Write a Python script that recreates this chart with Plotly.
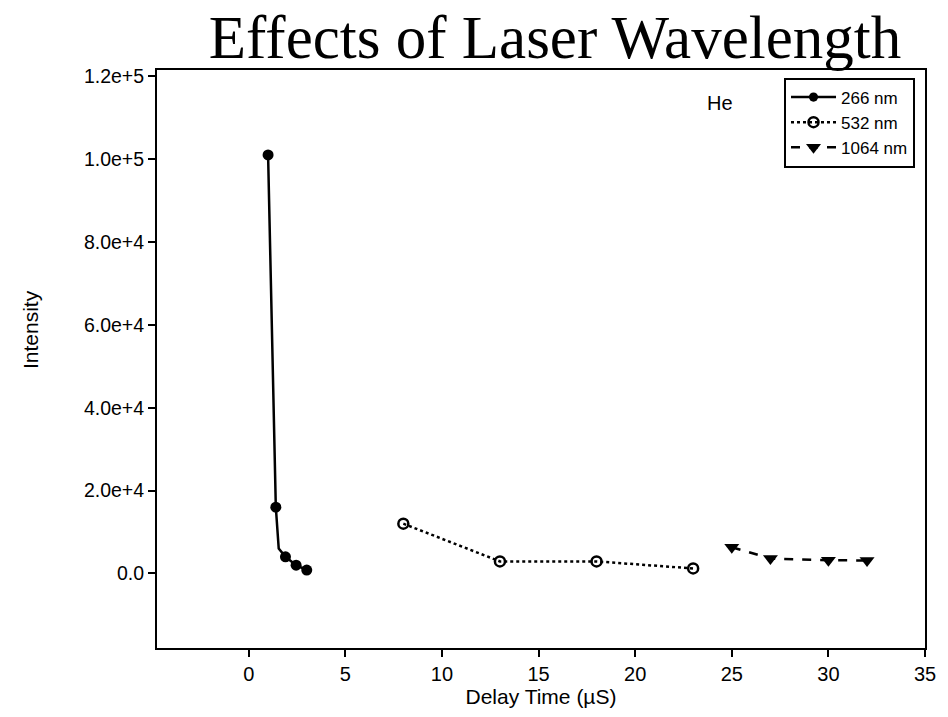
import plotly.graph_objects as go

# ---- data ----
x_266 = [1.0, 1.4, 1.55, 1.9, 2.45, 3.0]
y_266 = [101000, 16000, 6000, 4000, 2000, 800]
size_266 = [11, 11, 0, 11, 11, 11]

x_532 = [8, 13, 18, 23]
y_532 = [12000, 2900, 2900, 1200]

x_1064 = [25, 27, 30, 32]
y_1064 = [6300, 3600, 3200, 3100]

x_ticks = [0, 5, 10, 15, 20, 25, 30, 35]
y_ticks = [0, 20000, 40000, 60000, 80000, 100000, 120000]
y_ticklabels = ["0.0", "2.0e+4", "4.0e+4", "6.0e+4", "8.0e+4", "1.0e+5", "1.2e+5"]

SANS = "Liberation Sans, Arial, sans-serif"

fig = go.Figure()
fig.add_trace(go.Scatter(
    x=x_266, y=y_266, name="266 nm", mode="lines+markers",
    line=dict(color="black", width=2.5),
    marker=dict(symbol="circle", size=size_266, color="black", opacity=1,
                line=dict(width=0, color="black")),
))
fig.add_trace(go.Scatter(
    x=x_532, y=y_532, name="532 nm", mode="lines+markers",
    line=dict(color="black", width=2.5, dash="dot"),
    marker=dict(symbol="circle-open", size=10, color="black", opacity=1,
                line=dict(width=2.5, color="black")),
))
fig.add_trace(go.Scatter(
    x=x_1064, y=y_1064, name="1064 nm", mode="lines+markers",
    line=dict(color="black", width=2.5, dash="dash"),
    marker=dict(symbol="triangle-down", size=13, color="black", opacity=1,
                line=dict(width=0, color="black")),
))

axis_common = dict(
    showline=True, linecolor="black", linewidth=2, mirror=True,
    ticks="outside", ticklen=7, tickwidth=2, tickcolor="black",
    showgrid=False, zeroline=False,
)

fig.update_xaxes(
    range=[-4.75, 35], tickvals=x_ticks,
    tickfont=dict(family=SANS, size=20, color="black"),
    title=dict(text="Delay Time (µS)", standoff=0,
               font=dict(family=SANS, size=21, color="black")),
    **axis_common,
)
fig.update_yaxes(
    range=[-18000, 121500], tickvals=y_ticks, ticktext=y_ticklabels,
    tickfont=dict(family=SANS, size=19.5, color="black"),
    **axis_common,
)

fig.update_layout(
    width=948, height=717,
    margin=dict(l=157, r=23, t=70, b=69),
    plot_bgcolor="white", paper_bgcolor="white",
    title=dict(text="Effects of Laser Wavelength", x=0.5855, xanchor="center",
               y=0.949, yanchor="middle",
               font=dict(family="Liberation Serif, Times New Roman, serif", size=61, color="black")),
    legend=dict(x=0.987, y=0.987, xanchor="right", yanchor="top",
                bordercolor="black", borderwidth=2, bgcolor="white",
                font=dict(family=SANS, size=17, color="black"),
                itemwidth=45, tracegroupgap=0),
    showlegend=True,
    annotations=[
        dict(text="He", x=(720 - 157) / 768, y=(648 - 103) / 578,
             xref="paper", yref="paper", xanchor="center", yanchor="middle",
             showarrow=False, font=dict(family=SANS, size=20, color="black")),
        dict(text="Intensity", x=(30 - 157) / 768, y=(648 - 330) / 578,
             xref="paper", yref="paper", xanchor="center", yanchor="middle",
             textangle=-90, showarrow=False,
             font=dict(family=SANS, size=21, color="black")),
    ],
)

fig.write_html("out.html")
